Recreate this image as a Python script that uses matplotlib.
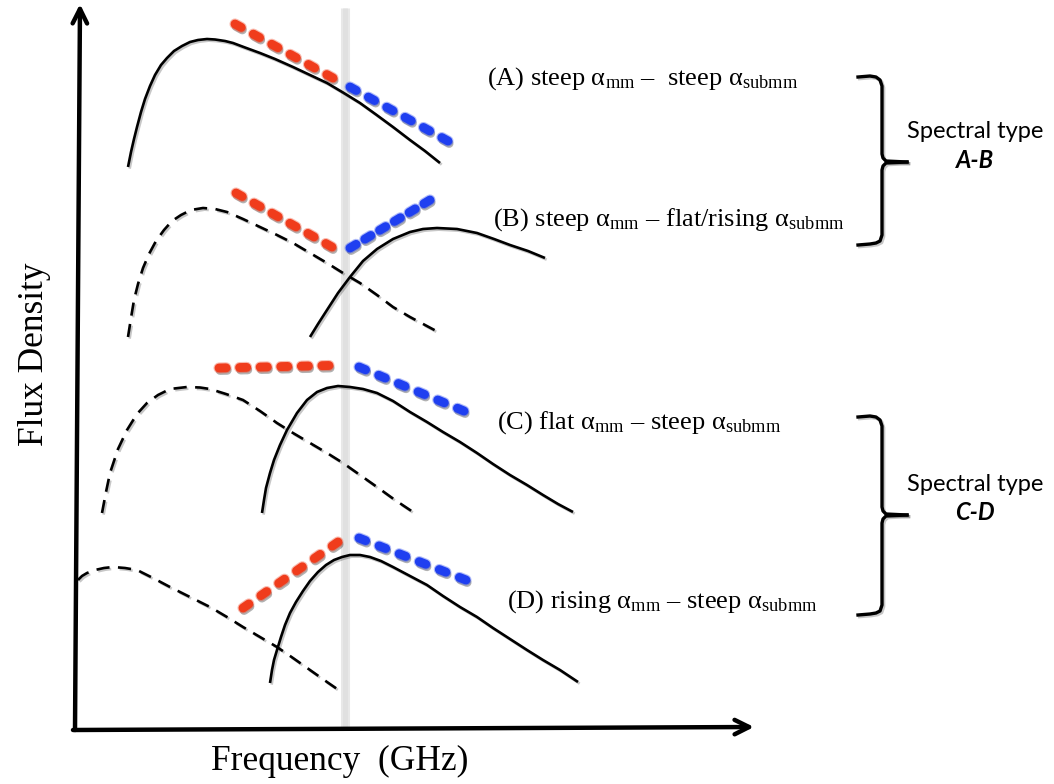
import numpy as np
import matplotlib
matplotlib.use('Agg')
import matplotlib.pyplot as plt
import matplotlib.patheffects as pe

matplotlib.rcParams['mathtext.fontset'] = 'custom'
matplotlib.rcParams['mathtext.rm'] = 'Liberation Serif'
matplotlib.rcParams['mathtext.it'] = 'Liberation Serif:italic'
matplotlib.rcParams['mathtext.bf'] = 'Liberation Serif:bold'

# schematic drawn in picture pixel units (x right, y down)

# (A) solid spectrum
a_x = [128, 131, 134, 137, 141, 145, 150, 155, 161, 167, 174, 182, 190, 198, 207,
       215, 225, 233, 245, 260, 275, 293, 310, 327, 343, 360, 376, 393, 410, 425, 440]
a_y = [167, 152, 139, 127, 112, 99, 86, 75, 65, 58, 51, 46, 42, 40, 39,
       39.5, 41, 43, 47.5, 53, 59, 67, 75, 83, 92.5, 103, 114.5, 127, 140, 151, 163]

# (B) dashed (old) and solid (new) spectrum
b_old_x = [128, 131, 134, 138, 143, 149, 156, 164, 172, 181, 191, 203, 215, 227, 243,
           260, 277, 293, 310, 327, 343, 360, 377, 393, 410, 425, 440]
b_old_y = [337, 318, 300, 284, 268, 254, 241, 230, 221, 215, 210, 208, 209, 212, 219,
           227, 235, 243, 253, 263, 273, 283, 295, 307, 317, 325, 333]
b_new_x = [310, 318, 327, 338, 350, 363, 377, 393, 410, 423, 437, 457, 477, 494, 510, 528, 545]
b_new_y = [337, 324, 310, 293, 277, 261, 249, 239, 232, 229, 228, 229, 233, 239, 245, 251, 258]

# (C) dashed and solid spectrum
c_old_x = [102, 106, 110, 118, 127, 137, 147, 158, 170, 187, 200, 210, 226, 243, 260,
           277, 293, 310, 327, 343, 360, 377, 395, 413]
c_old_y = [513, 492, 473, 449, 430, 414, 403, 395, 389, 387, 387.5, 389, 394, 400, 411,
           423, 433, 443, 453, 463, 475, 487, 500, 512]
c_new_x = [262, 264, 266, 270, 274, 280, 287, 297, 307, 317, 327, 338, 350, 363, 377,
           393, 410, 427, 443, 460, 477, 493, 510, 527, 543, 558, 573]
c_new_y = [513, 500, 488, 473, 460, 445, 430, 413, 400, 392, 388, 386, 387, 389, 393,
           401, 412, 422, 432, 442, 453, 464, 475, 485, 495, 504, 512]

# (D) dashed and solid spectrum
d_old_x = [78, 82, 87, 95, 104, 113, 125, 137, 153, 170, 190, 210, 227, 243, 260,
           277, 293, 310, 327, 343]
d_old_y = [580, 576, 573, 570, 568, 567, 568, 570, 578, 587, 597, 607, 617, 627, 637,
           647, 658, 670, 682, 693]
d_new_x = [270, 272, 274, 277, 281, 285, 290, 296, 303, 310, 318, 326, 334, 342, 350,
           360, 370, 381, 393, 410, 427, 443, 460, 477, 493, 510, 527, 543, 560, 578]
d_new_y = [683, 670, 660, 650, 637, 625, 613, 602, 591, 581, 572, 565, 560, 557, 555,
           555, 557, 561, 567, 576, 585, 596, 607, 617, 628, 639, 650, 660, 670, 682]

# spectral index indicators (start, end) : mm (red) and submm (blue), 6 blobs each
mm_x = [[235, 333], [236, 332], [219, 329], [243, 338]]
mm_y = [[24, 78], [193, 247], [368, 365.5], [608, 542]]
submm_x = [[350, 448], [350, 430], [359, 464], [359, 466]]
submm_y = [[87, 141], [248, 200], [367, 411], [538, 580]]

labels = ['(A) steep $\\mathrm{\u03b1_{mm}}$ \u2013  steep $\\mathrm{\u03b1_{submm}}$',
          '(B) steep $\\mathrm{\u03b1_{mm}}$ \u2013 flat/rising $\\mathrm{\u03b1_{submm}}$',
          '(C) flat $\\mathrm{\u03b1_{mm}}$ \u2013 steep $\\mathrm{\u03b1_{submm}}$',
          '(D) rising $\\mathrm{\u03b1_{mm}}$ \u2013 steep $\\mathrm{\u03b1_{submm}}$']
label_x = [487, 493, 497, 507]
label_y = [79, 220, 423, 602]

groups = ['A-B', 'C-D']
brace_top = [76, 416]
brace_mid = [162, 515]
brace_bot = [245, 615]

W, H = 1054, 784
fig = plt.figure(figsize=(W / 100, H / 100), dpi=100)
ax = fig.add_axes([0, 0, 1, 1])
ax.set_xlim(0, W)
ax.set_ylim(H, 0)
ax.axis('off')

shadow = [pe.SimpleLineShadow(offset=(1.2, -1.2), shadow_color='k', alpha=0.22), pe.Normal()]

# grey separator between mm and submm
ax.plot([345, 345], [8, 728], color='#e8e8e8', lw=6.5, solid_capstyle='butt', zorder=1)
ax.plot([345, 345], [8, 728], color='#e0e0e0', lw=3.5, solid_capstyle='butt', zorder=1)

# axes arrows
ax.annotate('', xy=(80, 4), xytext=(75, 730),
            arrowprops=dict(arrowstyle='->', lw=3.2, color='k', mutation_scale=26,
                            shrinkA=0, shrinkB=0), zorder=5)
ax.annotate('', xy=(754, 727), xytext=(73, 730),
            arrowprops=dict(arrowstyle='->', lw=3.2, color='k', mutation_scale=26,
                            shrinkA=0, shrinkB=0), zorder=5)

solid = dict(color='k', lw=1.9, solid_capstyle='butt', solid_joinstyle='round',
             zorder=3, path_effects=shadow)
dashed = dict(color='k', lw=1.9, linestyle=(0, (5, 3.2)), zorder=3, path_effects=shadow)

ax.plot(a_x, a_y, **solid)
ax.plot(b_old_x, b_old_y, **dashed)
ax.plot(b_new_x, b_new_y, **solid)
ax.plot(c_old_x, c_old_y, **dashed)
ax.plot(c_new_x, c_new_y, **solid)
ax.plot(d_old_x, d_old_y, **dashed)
ax.plot(d_new_x, d_new_y, **solid)

# thick rounded blobs: pick the gap so that six blobs fill each segment
blob_lw = 6.4
lw_px = blob_lw * 100 / 72
for xs, ys, col in [(mm_x, mm_y, '#f03c1c'), (submm_x, submm_y, '#1f3ff0')]:
    for i in range(4):
        seg = np.hypot(xs[i][1] - xs[i][0], ys[i][1] - ys[i][0])
        on = 0.8
        period = (seg - on * lw_px) / 5 / lw_px
        fx = [pe.SimpleLineShadow(offset=(0.8, -1.8), shadow_color='k', alpha=0.3),
              pe.Stroke(linewidth=blob_lw + 1.6, foreground=col, alpha=0.35),
              pe.Normal()]
        ax.plot(xs[i], ys[i], color=col, lw=blob_lw, linestyle=(0, (on, period - on)),
                dash_capstyle='round', zorder=4, path_effects=fx)

for i in range(4):
    ax.text(label_x[i], label_y[i], labels[i], fontsize=19, family='Liberation Serif',
            ha='left', va='center')

# braces and group names
for i in range(2):
    t, m, b = brace_top[i], brace_mid[i], brace_bot[i]
    bx = [858, 870, 876, 880, 882, 882, 883, 886, 907]
    by = [t + 1, t, t + 1, t + 4, t + 10, m - 8, m - 4, m - 1, m]
    ax.plot(bx, by, color='k', lw=2.4, zorder=3, solid_joinstyle='round', path_effects=shadow)
    by2 = [b, b - 1, b - 2, b - 4, b - 10, m + 8, m + 4, m + 1, m]
    ax.plot(bx, by2, color='k', lw=2.4, zorder=3, solid_joinstyle='round', path_effects=shadow)
    ax.text(975, m - 31, 'Spectral type', fontsize=17, family='Lato', ha='center', va='center')
    ax.text(975, m - 2, groups[i], fontsize=17, family='Lato', weight='bold',
            style='italic', ha='center', va='center')

ax.text(340, 761, 'Frequency  (GHz)', fontsize=25.5, family='Liberation Serif',
        ha='center', va='center')
ax.text(35, 354, 'Flux Density', fontsize=25.5, family='Liberation Serif',
        ha='center', va='center', rotation=90)

fig.savefig('out.png', dpi=100)
